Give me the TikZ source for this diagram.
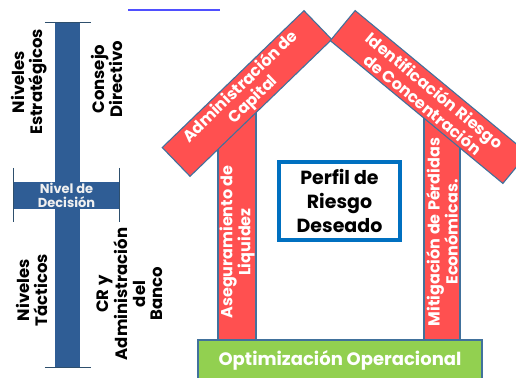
\documentclass[tikz,border=0pt]{standalone}
\usepackage{fontspec}
\setmainfont{Poppins}
\definecolor{barra}{HTML}{2F5D95}
\definecolor{rojo}{HTML}{FF5050}
\definecolor{borde}{HTML}{41719C}
\definecolor{verde}{HTML}{92D050}
\definecolor{azul}{HTML}{0070C0}
\definecolor{enlace}{HTML}{4F4FFF}
\begin{document}
\begin{tikzpicture}[x=1pt, y=-1pt,
    barStyle/.style={fill=barra, draw=none, inner sep=0pt},
    capStyle/.style={draw=borde!70!black, line width=1.2pt},
    redStyle/.style={fill=rojo, draw=borde, line width=1.1pt, inner sep=0pt, text=white, align=center, font=\bfseries\fontsize{16}{18}\selectfont},
    labelStyle/.style={rotate=90, align=center, inner sep=0pt, font=\bfseries\fontsize{16.5}{17.5}\selectfont}]
    \clip (0,0) rectangle (516,377);
    \fill[white] (0,0) rectangle (516,377);
    \draw[enlace, line width=1.3pt] (128,10) -- (220,10);

    % niveles
    \node[barStyle, minimum width=25pt, minimum height=344pt](eje) at (67.5,195) {};
    \node[barStyle, minimum width=105pt, minimum height=27pt, text=white!88!gray, align=center, font=\bfseries\fontsize{13}{14}\selectfont](decision) at (66.5,195.5) {Nivel de\\Decisión};
    \draw[capStyle] ([xshift=-10pt]eje.north west) -- ([xshift=11pt]eje.north east);
    \draw[capStyle] ([xshift=-10pt]eje.south west) -- ([xshift=11pt]eje.south east);
    \draw[capStyle] ([yshift=14pt]decision.north west) -- ([yshift=-13pt]decision.south west);
    \draw[capStyle] ([yshift=14pt]decision.north east) -- ([yshift=-13pt]decision.south east);

    \node[labelStyle](estrategicos) at (29,82) {Niveles\\Estratégicos};
    \node[labelStyle](consejo) at (107,79) {Consejo\\Directivo};
    \node[labelStyle](tacticos) at (32,290) {Niveles\\Tácticos};
    \node[labelStyle](banco) at (130,294) {CR y\\Administración\\del\\Banco};

    % casa
    \node[redStyle, minimum width=38pt, minimum height=240pt](colIzq) at (237,220) {};
    \node[redStyle, minimum width=36pt, minimum height=236pt](colDer) at (442,222) {};
    \node[redStyle, fill=none, draw=none, rotate=90](liquidez) at (237,242) {Aseguramiento de\\Liquidez};
    \node[redStyle, fill=none, draw=none, rotate=90](perdidas) at (442,232) {Mitigación de Pérdidas\\Económicas.};
    \node[redStyle, rotate=44, minimum width=197pt, minimum height=40pt](techoIzq) at (247,93.5) {Administración de\\Capital};
    \node[redStyle, rotate=-39.6, minimum width=224pt, minimum height=39pt](techoDer) at (429,97) {Identificación Riesgo\\de Concentración};
    \node[draw=azul, line width=3.5pt, fill=white, minimum width=121pt, minimum height=78pt, align=center, font=\bfseries\fontsize{19}{24}\selectfont](perfil) at (339.5,201) {Perfil de\\Riesgo\\Deseado};
    \node[fill=verde, draw=borde, line width=1.1pt, minimum width=284pt, minimum height=40pt, text=white, font=\bfseries\fontsize{18}{20}\selectfont](base) at (340,360) {Optimización Operacional};
\end{tikzpicture}
\end{document}
